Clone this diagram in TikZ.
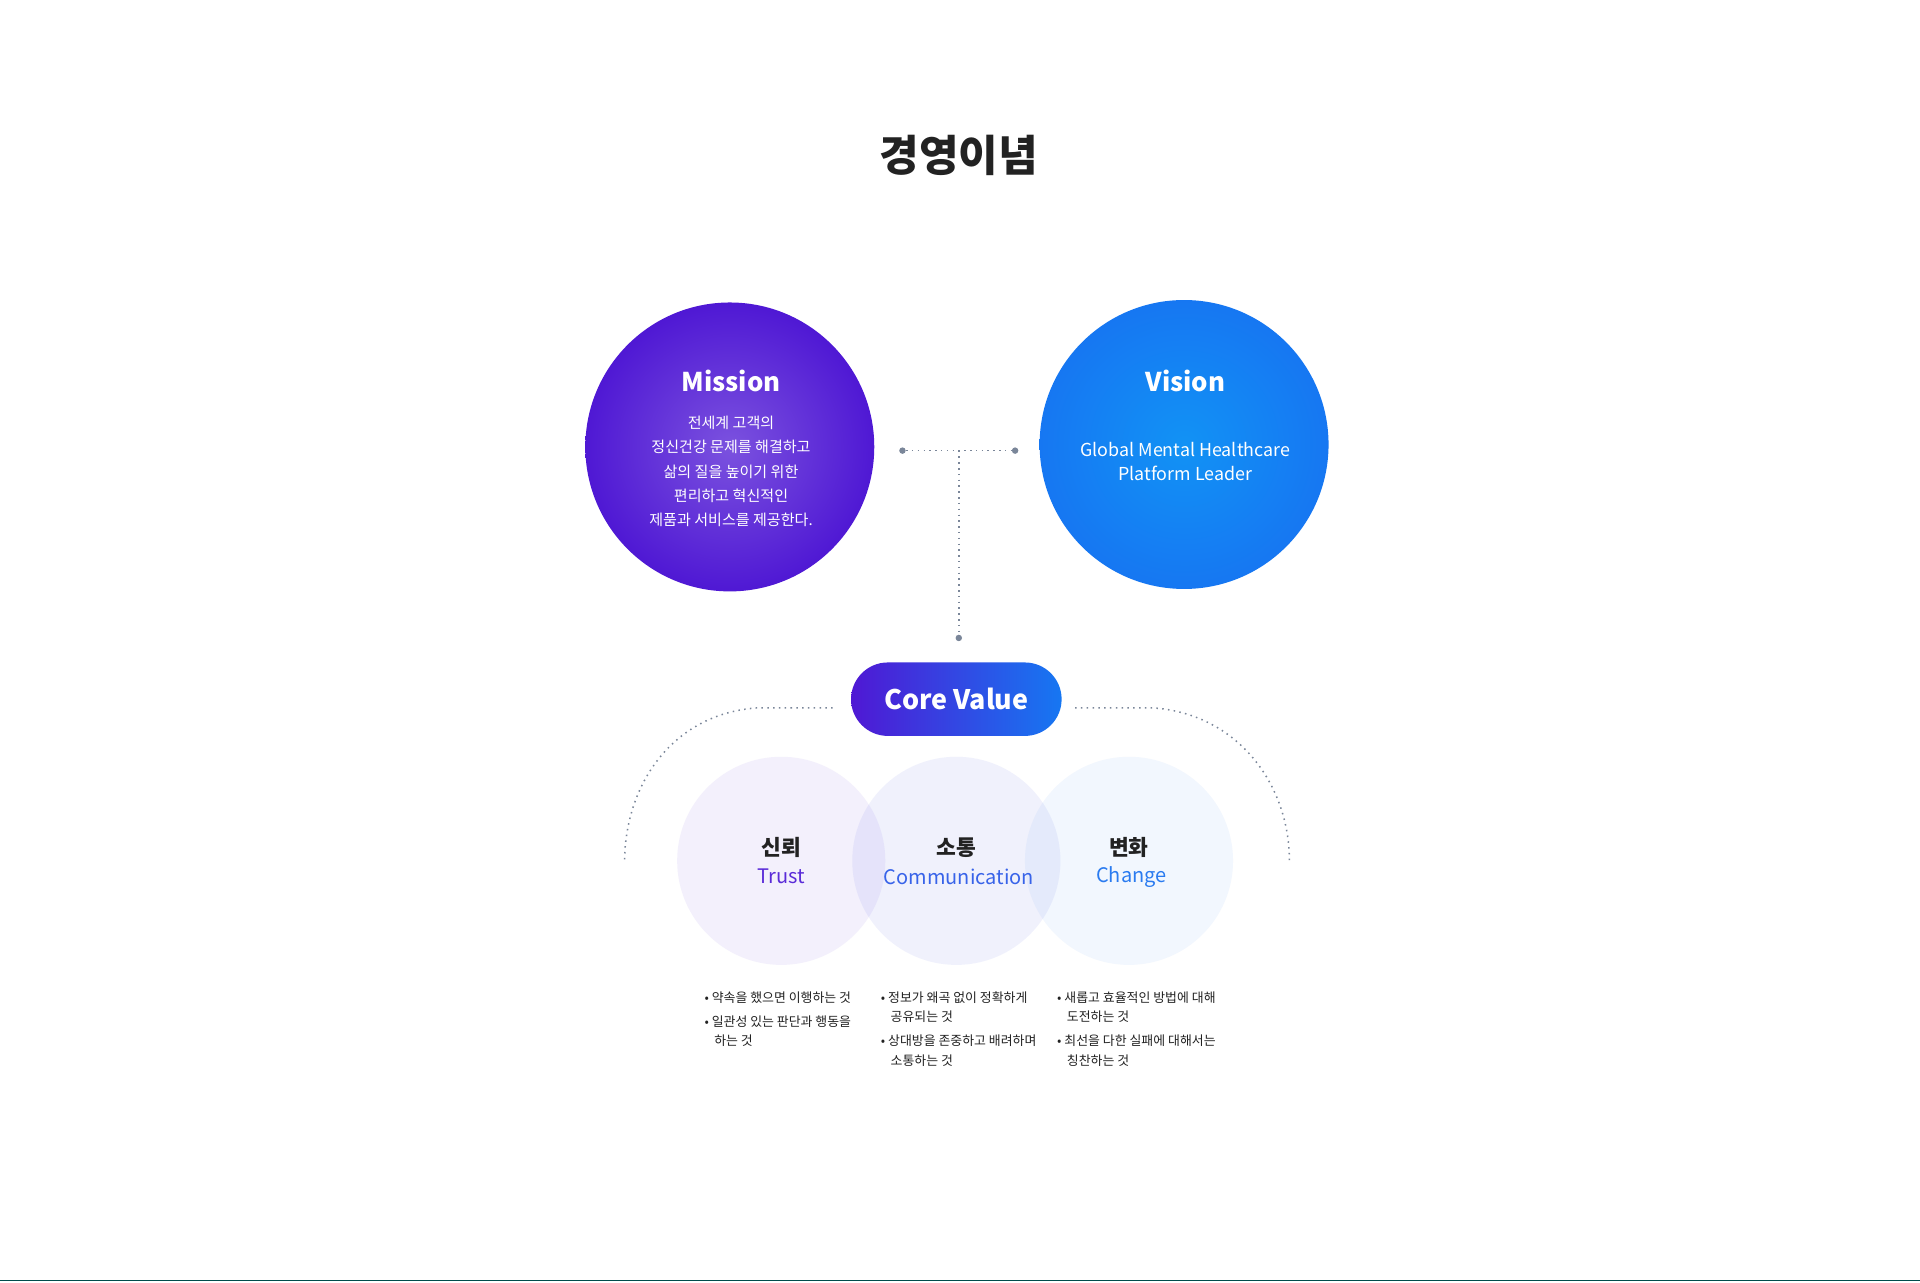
\documentclass[tikz,border=0pt]{standalone}
\usepackage{fontspec}
\setmainfont{Noto Sans CJK KR}
\usetikzlibrary{positioning}
\definecolor{mis}{HTML}{4F18D4}
\definecolor{vis}{HTML}{1677F2}
\definecolor{ttl}{HTML}{222222}
\definecolor{dotc}{HTML}{7A8699}
\definecolor{trc}{HTML}{5A2BD8}
\definecolor{chc}{HTML}{2A7BF0}
\tikzset{
  big/.style={circle,minimum size=4.72cm,inner sep=0},
  head/.style={text=white,font=\bfseries\fontsize{12}{14}\selectfont},
  body/.style={text=white,font=\fontsize{7}{11.2}\selectfont,align=center},
  dotline/.style={dotc,dotted,line width=0.7pt},
  val/.style={circle,minimum size=3.4cm,inner sep=0},
  vname/.style={font=\bfseries\fontsize{10}{12}\selectfont,text=ttl},
  ename/.style={font=\fontsize{9.3}{11}\selectfont},
  blt/.style={anchor=west,inner sep=0,font=\fontsize{6}{8}\selectfont,text=ttl},
  pnt/.style={circle,fill=dotc,inner sep=0,minimum size=3pt}
}
\begin{document}
\begin{tikzpicture}[x=0.02cm,y=-0.02cm]
  \useasboundingbox (0,0) rectangle (1568,1047);
  \fill[white] (0,0) rectangle (1568,1047);
  \node[font=\bfseries\fontsize{20}{24}\selectfont,text=ttl] (title) at (783,127) {경영이념};
  % mission and vision
  \node[big,inner color=mis!75!white,outer color=mis] (mission) at (596,365) {};
  \node[big,inner color=vis!80!cyan,outer color=vis] (vision) at (967,363) {};
  \node[head] (mhead) at (597,311) {Mission};
  \node[body] (mbody) at (597,385) {전세계 고객의\\정신건강 문제를 해결하고\\삶의 질을 높이기 위한\\편리하고 혁신적인\\제품과 서비스를 제공한다.};
  \node[head] (vhead) at (968,311) {Vision};
  \node[body,font=\fontsize{8.3}{11.5}\selectfont] (vbody) at (968,377) {Global Mental Healthcare\\Platform Leader};
  % connectors
  \node[pnt] (pl) at (737,368) {};
  \node[pnt] (pr) at (829,368) {};
  \node[pnt] (pb) at (783,521) {};
  \coordinate (pm) at (783,368);
  \draw[dotline] (pl) -- (pr);
  \draw[dotline] (pm) -- (pb);
  % core value
  \node[rounded corners=30*0.02cm,minimum width=3.44cm,minimum height=1.2cm,
    left color=mis,right color=vis,text=white,font=\bfseries\fontsize{12.5}{14}\selectfont] (core) at (781,571) {Core Value};
  \coordinate (al) at (680,578);
  \coordinate (ar) at (878,578);
  \coordinate (bl) at (510,705);
  \coordinate (br) at (1053,703);
  \draw[dotline] (al) -- (620,578) .. controls (550,582) and (510,640) .. (bl);
  \draw[dotline] (ar) -- (940,578) .. controls (1010,582) and (1053,640) .. (br);
  % values
  \node[val,fill=trc!7] (trust) at (638,703) {};
  \node[val,fill=trc!50!chc,fill opacity=.08] (comm) at (781,703) {};
  \node[val,fill=chc,fill opacity=.06] (change) at (922,703) {};
  \node[vname] (k1) at (638,692) {신뢰};
  \node[ename,text=trc] (e1) at (638,716) {Trust};
  \node[vname] (k2) at (781,692) {소통};
  \node[ename,text=chc!70!trc] (e2) at (783,716) {Communication};
  \node[vname] (k3) at (922,692) {변화};
  \node[ename,text=chc] (e3) at (924,716) {Change};
  % bullets
  \foreach \x/\y/\t in {575/815/{• 약속을 했으면 이행하는 것}, 575/834/{• 일관성 있는 판단과 행동을}, 583/850/{하는 것},
    719/815/{• 정보가 왜곡 없이 정확하게}, 727/830/{공유되는 것}, 719/850/{• 상대방을 존중하고 배려하며}, 727/866/{소통하는 것},
    863/815/{• 새롭고 효율적인 방법에 대해}, 871/830/{도전하는 것}, 863/850/{• 최선을 다한 실패에 대해서는}, 871/866/{칭찬하는 것}}{%
    \node[blt] at (\x,\y) {\t};
  }
  \draw[teal!60!black,line width=0.6pt] (0,1046) -- (1568,1046);
\end{tikzpicture}
\end{document}
